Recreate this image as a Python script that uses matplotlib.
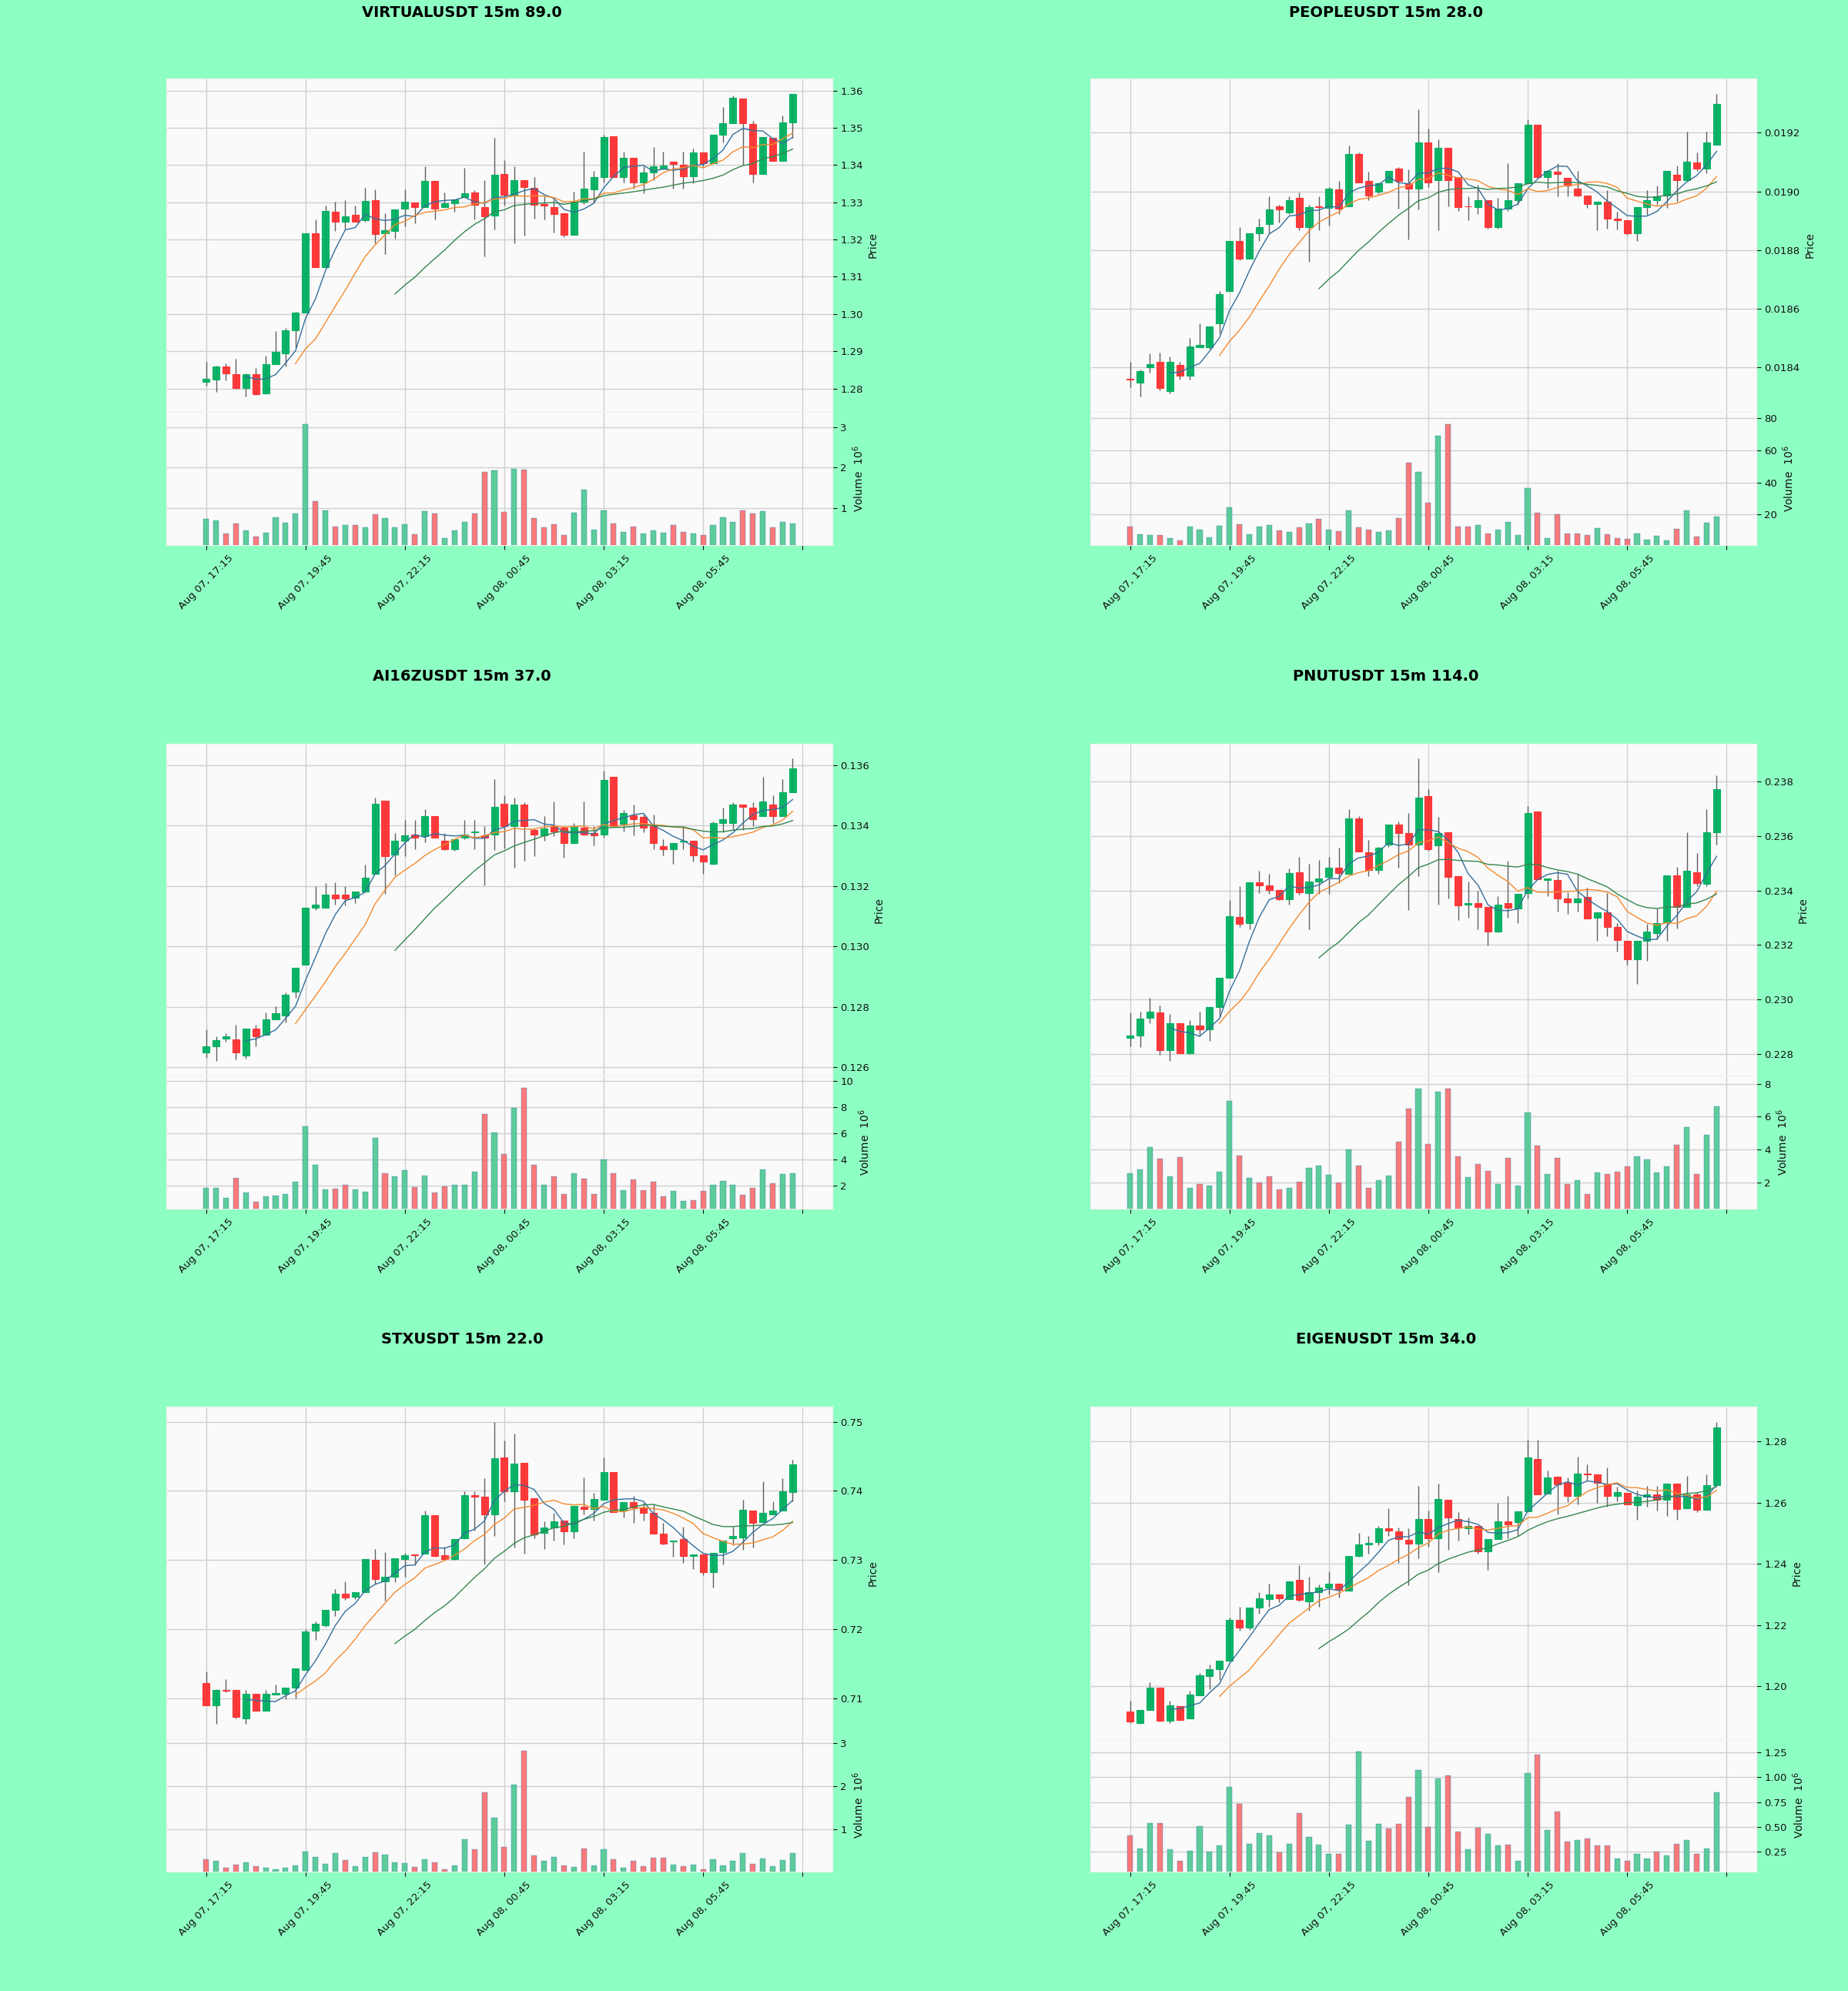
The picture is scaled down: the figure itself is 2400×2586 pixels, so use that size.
# 15m candlestick grid, six pairs, price + volume per panel

import numpy as np
import pandas as pd
import matplotlib
matplotlib.use("Agg")
from matplotlib import pyplot as plt
from matplotlib.ticker import FixedLocator, FormatStrFormatter

# ---- data ----
TITLES = ["VIRTUALUSDT 15m 89.0", "PEOPLEUSDT 15m 28.0", "AI16ZUSDT 15m 37.0",
          "PNUTUSDT 15m 114.0", "STXUSDT 15m 22.0", "EIGENUSDT 15m 34.0"]

TICK_LABELS = ["Aug 07, 17:15", "Aug 07, 19:45", "Aug 07, 22:15",
               "Aug 08, 00:45", "Aug 08, 03:15", "Aug 08, 05:45", ""]

MAV = [5, 10, 20]

# VIRTUALUSDT
VIRTUAL_OPEN = [1.2818, 1.2823, 1.2859, 1.2838, 1.2801, 1.2838, 1.2787, 1.2865, 1.2895, 1.2956,
                1.3003, 1.3217, 1.3126, 1.3274, 1.3248, 1.3267, 1.3251, 1.3306, 1.3216, 1.3223,
                1.3282, 1.3299, 1.3287, 1.3357, 1.3287, 1.3298, 1.3315, 1.3326, 1.3288, 1.3265,
                1.3376, 1.3318, 1.3360, 1.3339, 1.3295, 1.3288, 1.3270, 1.3213, 1.3301, 1.3335,
                1.3367, 1.3477, 1.3367, 1.3420, 1.3354, 1.3380, 1.3390, 1.3409, 1.3401, 1.3369,
                1.3433, 1.3405, 1.3481, 1.3513, 1.3579, 1.3511, 1.3376, 1.3473, 1.3411, 1.3515]
VIRTUAL_HIGH = [1.2871, 1.2862, 1.2867, 1.2880, 1.2840, 1.2855, 1.2889, 1.2954, 1.2962, 1.3005,
                1.3217, 1.3253, 1.3291, 1.3301, 1.3306, 1.3291, 1.3339, 1.3335, 1.3270, 1.3281,
                1.3335, 1.3299, 1.3397, 1.3357, 1.3326, 1.3308, 1.3392, 1.3333, 1.3359, 1.3473,
                1.3414, 1.3397, 1.3360, 1.3367, 1.3316, 1.3308, 1.3270, 1.3329, 1.3435, 1.3384,
                1.3481, 1.3477, 1.3435, 1.3420, 1.3397, 1.3448, 1.3435, 1.3409, 1.3437, 1.3445,
                1.3433, 1.3481, 1.3555, 1.3587, 1.3579, 1.3518, 1.3476, 1.3473, 1.3534, 1.3592]
VIRTUAL_LOW = [1.2808, 1.2791, 1.2821, 1.2800, 1.2778, 1.2783, 1.2786, 1.2865, 1.2859, 1.2910,
               1.3003, 1.3126, 1.3126, 1.3223, 1.3227, 1.3248, 1.3248, 1.3189, 1.3160, 1.3202,
               1.3236, 1.3244, 1.3287, 1.3253, 1.3287, 1.3274, 1.3315, 1.3253, 1.3155, 1.3227,
               1.3291, 1.3189, 1.3210, 1.3257, 1.3254, 1.3219, 1.3206, 1.3213, 1.3295, 1.3299,
               1.3354, 1.3367, 1.3353, 1.3337, 1.3325, 1.3359, 1.3388, 1.3337, 1.3337, 1.3352,
               1.3394, 1.3405, 1.3460, 1.3513, 1.3401, 1.3354, 1.3376, 1.3411, 1.3411, 1.3473]
VIRTUAL_CLOSE = [1.2826, 1.2860, 1.2840, 1.2801, 1.2838, 1.2784, 1.2865, 1.2899, 1.2956, 1.3003,
                 1.3217, 1.3126, 1.3276, 1.3248, 1.3263, 1.3248, 1.3304, 1.3215, 1.3225, 1.3281,
                 1.3301, 1.3287, 1.3357, 1.3282, 1.3298, 1.3308, 1.3325, 1.3293, 1.3263, 1.3374,
                 1.3320, 1.3360, 1.3340, 1.3293, 1.3291, 1.3268, 1.3213, 1.3301, 1.3337, 1.3367,
                 1.3476, 1.3367, 1.3420, 1.3354, 1.3380, 1.3397, 1.3398, 1.3402, 1.3369, 1.3433,
                 1.3405, 1.3481, 1.3513, 1.3580, 1.3513, 1.3376, 1.3476, 1.3411, 1.3515, 1.3592]
VIRTUAL_VOL = [0.73, 0.69, 0.36, 0.62, 0.45, 0.28, 0.39, 0.76, 0.63, 0.86,
               3.08, 1.16, 0.93, 0.53, 0.57, 0.57, 0.51, 0.84, 0.75, 0.51,
               0.59, 0.34, 0.92, 0.87, 0.26, 0.45, 0.65, 0.87, 1.89, 1.93,
               0.91, 1.98, 1.95, 0.75, 0.51, 0.59, 0.33, 0.88, 1.45, 0.47,
               0.93, 0.61, 0.40, 0.54, 0.37, 0.44, 0.38, 0.57, 0.41, 0.36,
               0.33, 0.58, 0.76, 0.65, 0.93, 0.87, 0.92, 0.51, 0.65, 0.61]

# PEOPLEUSDT
PEOPLE_OPEN = [0.018362, 0.018349, 0.018400, 0.018419, 0.018320, 0.018409, 0.018371, 0.018469, 0.018468, 0.018551,
               0.018660, 0.018830, 0.018771, 0.018858, 0.018890, 0.018949, 0.018928, 0.018979, 0.018879, 0.018949,
               0.018944, 0.019006, 0.018949, 0.019128, 0.019036, 0.019000, 0.019030, 0.019077, 0.019027, 0.019009,
               0.019168, 0.019038, 0.019149, 0.019049, 0.018950, 0.018947, 0.018969, 0.018879, 0.018941, 0.018969,
               0.019027, 0.019227, 0.019049, 0.019068, 0.019047, 0.019009, 0.018987, 0.018958, 0.018965, 0.018908,
               0.018901, 0.018857, 0.018947, 0.018971, 0.018987, 0.019057, 0.019038, 0.019098, 0.019077, 0.019160]
PEOPLE_HIGH = [0.018419, 0.018392, 0.018447, 0.018452, 0.018439, 0.018419, 0.018501, 0.018551, 0.018541, 0.018660,
               0.018830, 0.018879, 0.018858, 0.018906, 0.018982, 0.018955, 0.018984, 0.018995, 0.018955, 0.018984,
               0.019014, 0.019036, 0.019157, 0.019133, 0.019068, 0.019030, 0.019070, 0.019084, 0.019074, 0.019279,
               0.019214, 0.019176, 0.019149, 0.019049, 0.018984, 0.019023, 0.018969, 0.018979, 0.019097, 0.019027,
               0.019246, 0.019227, 0.019070, 0.019095, 0.019047, 0.019070, 0.018987, 0.018965, 0.019005, 0.018930,
               0.018901, 0.018947, 0.019005, 0.019019, 0.019070, 0.019088, 0.019203, 0.019133, 0.019203, 0.019333]
PEOPLE_LOW = [0.018333, 0.018301, 0.018382, 0.018322, 0.018311, 0.018360, 0.018360, 0.018469, 0.018463, 0.018517,
              0.018660, 0.018766, 0.018771, 0.018832, 0.018857, 0.018895, 0.018922, 0.018868, 0.018760, 0.018868,
              0.018884, 0.018922, 0.018949, 0.019030, 0.018971, 0.018990, 0.019030, 0.018941, 0.018836, 0.018938,
              0.019014, 0.018868, 0.018949, 0.018933, 0.018901, 0.018922, 0.018874, 0.018874, 0.018933, 0.018955,
              0.019027, 0.019049, 0.019009, 0.018982, 0.018982, 0.018982, 0.018944, 0.018868, 0.018874, 0.018871,
              0.018852, 0.018832, 0.018919, 0.018955, 0.018944, 0.018965, 0.019038, 0.019070, 0.019063, 0.019160]
PEOPLE_CLOSE = [0.018360, 0.018389, 0.018411, 0.018331, 0.018419, 0.018371, 0.018471, 0.018478, 0.018541, 0.018649,
                0.018830, 0.018771, 0.018858, 0.018878, 0.018938, 0.018938, 0.018969, 0.018879, 0.018947, 0.018947,
                0.019009, 0.018942, 0.019128, 0.019030, 0.018987, 0.019027, 0.019070, 0.019036, 0.019009, 0.019168,
                0.019030, 0.019149, 0.019038, 0.018947, 0.018948, 0.018969, 0.018879, 0.018941, 0.018969, 0.019027,
                0.019227, 0.019049, 0.019070, 0.019059, 0.019019, 0.018987, 0.018958, 0.018965, 0.018906, 0.018901,
                0.018857, 0.018947, 0.018969, 0.018984, 0.019070, 0.019038, 0.019101, 0.019077, 0.019168, 0.019297]
PEOPLE_VOL = [12.8, 7.7, 7.3, 7.3, 5.3, 3.8, 12.8, 10.8, 5.7, 13.2,
              24.5, 14.1, 7.7, 12.6, 13.5, 10.2, 9.2, 12.2, 14.5, 17.5,
              10.6, 9.6, 22.5, 12.2, 10.8, 9.2, 10.2, 18.0, 52.3, 46.4,
              27.2, 68.9, 76.1, 12.8, 12.8, 13.5, 8.3, 10.6, 15.5, 7.3,
              36.6, 21.0, 5.3, 20.0, 8.3, 8.3, 7.3, 11.6, 7.7, 5.3,
              4.9, 8.3, 4.4, 6.9, 4.0, 11.2, 22.5, 6.3, 15.1, 19.0]

# AI16ZUSDT
AI16Z_OPEN = [0.12649, 0.12670, 0.12694, 0.12691, 0.12639, 0.12728, 0.12707, 0.12759, 0.12770, 0.12850,
              0.12939, 0.13128, 0.13128, 0.13170, 0.13170, 0.13162, 0.13180, 0.13239, 0.13482, 0.13303,
              0.13350, 0.13371, 0.13364, 0.13430, 0.13350, 0.13322, 0.13360, 0.13378, 0.13368, 0.13371,
              0.13472, 0.13397, 0.13470, 0.13386, 0.13368, 0.13397, 0.13392, 0.13343, 0.13392, 0.13376,
              0.13371, 0.13561, 0.13405, 0.13433, 0.13428, 0.13399, 0.13332, 0.13322, 0.13348, 0.13350,
              0.13301, 0.13272, 0.13409, 0.13409, 0.13470, 0.13459, 0.13430, 0.13470, 0.13430, 0.13509]
AI16Z_HIGH = [0.12725, 0.12701, 0.12711, 0.12741, 0.12728, 0.12739, 0.12782, 0.12801, 0.12847, 0.12930,
              0.13128, 0.13199, 0.13209, 0.13211, 0.13199, 0.13180, 0.13270, 0.13491, 0.13482, 0.13374,
              0.13418, 0.13418, 0.13454, 0.13430, 0.13374, 0.13355, 0.13418, 0.13418, 0.13399, 0.13553,
              0.13501, 0.13491, 0.13478, 0.13390, 0.13430, 0.13480, 0.13397, 0.13409, 0.13480, 0.13397,
              0.13582, 0.13561, 0.13451, 0.13470, 0.13436, 0.13436, 0.13355, 0.13343, 0.13399, 0.13350,
              0.13301, 0.13412, 0.13459, 0.13478, 0.13470, 0.13478, 0.13561, 0.13501, 0.13553, 0.13621]
AI16Z_LOW = [0.12631, 0.12621, 0.12683, 0.12626, 0.12628, 0.12670, 0.12704, 0.12759, 0.12749, 0.12829,
             0.12939, 0.13121, 0.13128, 0.13139, 0.13136, 0.13142, 0.13180, 0.13239, 0.13173, 0.13235,
             0.13298, 0.13322, 0.13345, 0.13360, 0.13319, 0.13316, 0.13355, 0.13322, 0.13201, 0.13319,
             0.13324, 0.13261, 0.13282, 0.13298, 0.13350, 0.13366, 0.13293, 0.13340, 0.13368, 0.13334,
             0.13360, 0.13397, 0.13381, 0.13368, 0.13378, 0.13322, 0.13301, 0.13272, 0.13322, 0.13280,
             0.13239, 0.13270, 0.13378, 0.13384, 0.13384, 0.13399, 0.13430, 0.13407, 0.13430, 0.13509]
AI16Z_CLOSE = [0.12670, 0.12689, 0.12701, 0.12649, 0.12728, 0.12701, 0.12759, 0.12779, 0.12840, 0.12930,
               0.13128, 0.13139, 0.13170, 0.13159, 0.13159, 0.13180, 0.13228, 0.13472, 0.13298, 0.13350,
               0.13368, 0.13360, 0.13430, 0.13360, 0.13322, 0.13355, 0.13371, 0.13380, 0.13360, 0.13461,
               0.13397, 0.13470, 0.13397, 0.13371, 0.13389, 0.13381, 0.13343, 0.13397, 0.13371, 0.13368,
               0.13551, 0.13397, 0.13441, 0.13420, 0.13392, 0.13343, 0.13322, 0.13343, 0.13350, 0.13301,
               0.13280, 0.13409, 0.13420, 0.13470, 0.13461, 0.13420, 0.13480, 0.13430, 0.13509, 0.13590]
AI16Z_VOL = [1.79, 1.83, 1.07, 2.55, 1.45, 0.76, 1.19, 1.24, 1.36, 2.26,
             6.49, 3.55, 1.71, 1.76, 2.02, 1.71, 1.52, 5.65, 2.91, 2.67,
             3.19, 1.88, 2.74, 1.47, 1.95, 2.02, 2.02, 3.03, 7.44, 6.01,
             4.41, 7.92, 9.42, 3.55, 2.02, 2.72, 1.36, 2.95, 2.50, 1.36,
             3.98, 2.95, 1.64, 2.43, 1.64, 2.26, 1.16, 1.55, 0.83, 0.88,
             1.55, 2.07, 2.36, 2.07, 1.31, 1.79, 3.22, 2.14, 2.84, 2.91]

# PNUTUSDT
PNUT_OPEN = [0.22859, 0.22867, 0.22933, 0.22951, 0.22813, 0.22913, 0.22803, 0.22905, 0.22890, 0.22971,
             0.23081, 0.23304, 0.23280, 0.23430, 0.23418, 0.23401, 0.23368, 0.23468, 0.23391, 0.23432,
             0.23449, 0.23483, 0.23462, 0.23665, 0.23541, 0.23476, 0.23569, 0.23642, 0.23610, 0.23569,
             0.23746, 0.23566, 0.23615, 0.23453, 0.23347, 0.23353, 0.23341, 0.23249, 0.23353, 0.23335,
             0.23391, 0.23691, 0.23440, 0.23440, 0.23370, 0.23358, 0.23376, 0.23301, 0.23321, 0.23266,
             0.23214, 0.23148, 0.23214, 0.23244, 0.23283, 0.23457, 0.23341, 0.23468, 0.23425, 0.23613]
PNUT_HIGH = [0.22951, 0.22954, 0.23006, 0.22979, 0.22948, 0.22913, 0.22925, 0.22956, 0.22971, 0.23081,
             0.23364, 0.23416, 0.23430, 0.23474, 0.23460, 0.23401, 0.23480, 0.23523, 0.23499, 0.23511,
             0.23523, 0.23557, 0.23699, 0.23673, 0.23587, 0.23561, 0.23642, 0.23653, 0.23684, 0.23884,
             0.23772, 0.23671, 0.23615, 0.23453, 0.23434, 0.23399, 0.23341, 0.23379, 0.23509, 0.23387,
             0.23711, 0.23691, 0.23445, 0.23474, 0.23393, 0.23460, 0.23410, 0.23321, 0.23391, 0.23280,
             0.23214, 0.23214, 0.23277, 0.23335, 0.23457, 0.23488, 0.23615, 0.23538, 0.23699, 0.23823]
PNUT_LOW = [0.22827, 0.22824, 0.22913, 0.22798, 0.22775, 0.22803, 0.22801, 0.22867, 0.22847, 0.22936,
            0.23081, 0.23266, 0.23257, 0.23391, 0.23387, 0.23364, 0.23349, 0.23384, 0.23257, 0.23387,
            0.23387, 0.23428, 0.23462, 0.23543, 0.23453, 0.23460, 0.23561, 0.23483, 0.23329, 0.23453,
            0.23546, 0.23347, 0.23372, 0.23291, 0.23301, 0.23257, 0.23199, 0.23249, 0.23301, 0.23280,
            0.23372, 0.23442, 0.23379, 0.23324, 0.23314, 0.23324, 0.23298, 0.23214, 0.23231, 0.23176,
            0.23127, 0.23058, 0.23141, 0.23222, 0.23214, 0.23260, 0.23341, 0.23416, 0.23416, 0.23569]
PNUT_CLOSE = [0.22867, 0.22931, 0.22954, 0.22813, 0.22913, 0.22803, 0.22905, 0.22890, 0.22971, 0.23081,
              0.23306, 0.23277, 0.23430, 0.23418, 0.23401, 0.23368, 0.23465, 0.23393, 0.23432, 0.23445,
              0.23483, 0.23465, 0.23665, 0.23543, 0.23476, 0.23557, 0.23642, 0.23610, 0.23569, 0.23742,
              0.23553, 0.23610, 0.23451, 0.23345, 0.23353, 0.23341, 0.23249, 0.23349, 0.23338, 0.23387,
              0.23684, 0.23442, 0.23445, 0.23370, 0.23358, 0.23372, 0.23298, 0.23321, 0.23266, 0.23217,
              0.23148, 0.23214, 0.23249, 0.23280, 0.23457, 0.23341, 0.23474, 0.23428, 0.23615, 0.23771]
PNUT_VOL = [2.54, 2.79, 4.16, 3.44, 2.34, 3.55, 1.67, 1.87, 1.77, 2.63,
            6.94, 3.63, 2.25, 1.96, 2.34, 1.58, 1.64, 2.02, 2.86, 3.02,
            2.44, 1.96, 4.01, 3.02, 1.67, 2.10, 2.38, 4.45, 6.46, 7.71,
            4.32, 7.52, 7.71, 3.59, 2.29, 3.11, 2.67, 1.87, 3.49, 1.77,
            6.27, 4.24, 2.48, 3.48, 1.90, 2.10, 1.29, 2.59, 2.48, 2.63,
            2.96, 3.59, 3.40, 2.57, 2.98, 4.30, 5.35, 2.48, 4.89, 6.62]

# STXUSDT
STX_OPEN = [0.71228, 0.70900, 0.71127, 0.71127, 0.70717, 0.71068, 0.70827, 0.71055, 0.71068, 0.71159,
            0.71410, 0.71979, 0.72057, 0.72276, 0.72512, 0.72467, 0.72540, 0.73004, 0.72695, 0.72754,
            0.73014, 0.73087, 0.73096, 0.73651, 0.73073, 0.73014, 0.73314, 0.73938, 0.73916, 0.73665,
            0.74486, 0.73998, 0.74408, 0.73893, 0.73392, 0.73469, 0.73574, 0.73415, 0.73770, 0.73733,
            0.73870, 0.74271, 0.73711, 0.73834, 0.73756, 0.73679, 0.73378, 0.73269, 0.73301, 0.73059,
            0.73087, 0.72822, 0.73118, 0.73314, 0.73324, 0.73711, 0.73551, 0.73665, 0.73711, 0.73980]
STX_HIGH = [0.71387, 0.71137, 0.71282, 0.71127, 0.71127, 0.71068, 0.71127, 0.71205, 0.71159, 0.71433,
            0.72002, 0.72116, 0.72276, 0.72585, 0.72695, 0.72540, 0.73014, 0.73164, 0.73118, 0.73027,
            0.73105, 0.73087, 0.73711, 0.73651, 0.73196, 0.73301, 0.73998, 0.73998, 0.74189, 0.75000,
            0.74727, 0.74827, 0.74408, 0.73893, 0.73560, 0.73688, 0.73574, 0.73779, 0.74198, 0.73970,
            0.74485, 0.74271, 0.73834, 0.73925, 0.73825, 0.73815, 0.73542, 0.73287, 0.73483, 0.73077,
            0.73087, 0.73105, 0.73287, 0.73483, 0.73870, 0.73711, 0.74143, 0.73847, 0.74180, 0.74453]
STX_LOW = [0.70900, 0.70635, 0.71091, 0.70717, 0.70635, 0.70818, 0.70827, 0.71055, 0.70991, 0.71000,
           0.71410, 0.71843, 0.72039, 0.72194, 0.72421, 0.72435, 0.72540, 0.72663, 0.72412, 0.72686,
           0.72754, 0.72922, 0.73096, 0.73050, 0.73014, 0.73004, 0.73314, 0.73424, 0.72936, 0.73346,
           0.73847, 0.73187, 0.73096, 0.73314, 0.73164, 0.73278, 0.73223, 0.73314, 0.73665, 0.73574,
           0.73870, 0.73697, 0.73620, 0.73542, 0.73574, 0.73378, 0.73223, 0.73050, 0.72959, 0.72868,
           0.72786, 0.72604, 0.72936, 0.73210, 0.73150, 0.73187, 0.73551, 0.73665, 0.73711, 0.73847]
STX_CLOSE = [0.70900, 0.71123, 0.71109, 0.70736, 0.71068, 0.70827, 0.71068, 0.71082, 0.71159, 0.71433,
             0.71970, 0.72084, 0.72276, 0.72512, 0.72458, 0.72540, 0.73014, 0.72722, 0.72763, 0.73027,
             0.73073, 0.73073, 0.73651, 0.73059, 0.73014, 0.73301, 0.73938, 0.73916, 0.73665, 0.74472,
             0.73998, 0.74394, 0.73870, 0.73369, 0.73469, 0.73560, 0.73415, 0.73779, 0.73733, 0.73879,
             0.74271, 0.73697, 0.73834, 0.73756, 0.73688, 0.73378, 0.73241, 0.73287, 0.73059, 0.73077,
             0.72822, 0.73105, 0.73287, 0.73346, 0.73724, 0.73542, 0.73679, 0.73711, 0.73998, 0.74380]
STX_VOL = [0.32, 0.27, 0.11, 0.19, 0.25, 0.16, 0.11, 0.09, 0.12, 0.17,
           0.50, 0.37, 0.21, 0.45, 0.30, 0.16, 0.37, 0.47, 0.42, 0.24,
           0.22, 0.14, 0.32, 0.25, 0.09, 0.17, 0.77, 0.55, 1.86, 1.27,
           0.59, 2.05, 2.82, 0.40, 0.28, 0.37, 0.18, 0.14, 0.57, 0.18,
           0.54, 0.32, 0.12, 0.28, 0.16, 0.35, 0.35, 0.19, 0.16, 0.19,
           0.09, 0.32, 0.18, 0.28, 0.45, 0.21, 0.34, 0.16, 0.30, 0.45]

# EIGENUSDT
EIGEN_OPEN = [1.19174, 1.18812, 1.19226, 1.19950, 1.18884, 1.19350, 1.18946, 1.19712, 1.20333, 1.20571,
              1.20830, 1.22175, 1.21916, 1.22568, 1.22847, 1.23002, 1.22847, 1.23468, 1.22775, 1.23085,
              1.23230, 1.23364, 1.23126, 1.24265, 1.24637, 1.24710, 1.25175, 1.25072, 1.24782, 1.24658,
              1.25465, 1.24844, 1.26086, 1.25465, 1.25175, 1.25227, 1.24399, 1.24813, 1.25382, 1.25362,
              1.25713, 1.27431, 1.26293, 1.26852, 1.26645, 1.26231, 1.26955, 1.26914, 1.26624, 1.26210,
              1.26313, 1.25920, 1.26189, 1.26262, 1.26106, 1.26624, 1.25817, 1.26262, 1.25775, 1.26572]
EIGEN_HIGH = [1.19536, 1.19226, 1.20126, 1.19950, 1.19536, 1.19350, 1.19847, 1.20436, 1.20705, 1.20850,
              1.22258, 1.22609, 1.22568, 1.23085, 1.23364, 1.23002, 1.23437, 1.23954, 1.23571, 1.23333,
              1.23747, 1.23364, 1.24265, 1.25020, 1.24917, 1.25227, 1.25817, 1.25196, 1.25175, 1.26541,
              1.25744, 1.26624, 1.26086, 1.25693, 1.25506, 1.25227, 1.24813, 1.26003, 1.26210, 1.25713,
              1.28052, 1.28052, 1.27038, 1.26852, 1.26831, 1.27503, 1.27245, 1.26914, 1.27141, 1.26520,
              1.26313, 1.26396, 1.26541, 1.26541, 1.26624, 1.26624, 1.26883, 1.26334, 1.26914, 1.28642]
EIGEN_LOW = [1.18812, 1.18781, 1.19226, 1.18843, 1.18812, 1.18915, 1.18946, 1.19712, 1.19898, 1.20209,
             1.20830, 1.21812, 1.21843, 1.22381, 1.22589, 1.22744, 1.22847, 1.22775, 1.22485, 1.22609,
             1.23002, 1.22899, 1.23126, 1.24223, 1.24327, 1.24606, 1.24917, 1.24037, 1.23292, 1.24192,
             1.24554, 1.23727, 1.24451, 1.24761, 1.24968, 1.24327, 1.23809, 1.24813, 1.24844, 1.24917,
             1.25713, 1.26262, 1.26293, 1.25610, 1.26024, 1.25951, 1.26727, 1.25982, 1.25879, 1.26055,
             1.25951, 1.25434, 1.25879, 1.25744, 1.25568, 1.25434, 1.25817, 1.25693, 1.25775, 1.26572]
EIGEN_CLOSE = [1.18843, 1.19226, 1.19950, 1.18884, 1.19381, 1.18915, 1.19743, 1.20364, 1.20571, 1.20850,
               1.22175, 1.21916, 1.22568, 1.22878, 1.23002, 1.22878, 1.23437, 1.22816, 1.23085, 1.23230,
               1.23364, 1.23157, 1.24265, 1.24637, 1.24689, 1.25175, 1.25093, 1.24813, 1.24658, 1.25465,
               1.24844, 1.26127, 1.25506, 1.25196, 1.25227, 1.24399, 1.24813, 1.25382, 1.25279, 1.25713,
               1.27472, 1.26262, 1.26831, 1.26603, 1.26231, 1.26955, 1.26914, 1.26645, 1.26231, 1.26334,
               1.25951, 1.26189, 1.26262, 1.26106, 1.26624, 1.25796, 1.26262, 1.25775, 1.26572, 1.28466]
EIGEN_VOL = [0.41, 0.28, 0.54, 0.54, 0.27, 0.16, 0.26, 0.51, 0.25, 0.31,
             0.90, 0.73, 0.33, 0.44, 0.41, 0.24, 0.33, 0.64, 0.40, 0.32,
             0.23, 0.23, 0.52, 1.26, 0.36, 0.53, 0.48, 0.53, 0.80, 1.07,
             0.50, 0.99, 1.02, 0.45, 0.27, 0.49, 0.43, 0.31, 0.32, 0.16,
             1.04, 1.23, 0.47, 0.65, 0.35, 0.37, 0.38, 0.31, 0.31, 0.18,
             0.16, 0.23, 0.18, 0.25, 0.21, 0.33, 0.37, 0.23, 0.28, 0.85]

# axis ticks as printed in the reference
PRICE_TICKS = [[1.28, 1.29, 1.30, 1.31, 1.32, 1.33, 1.34, 1.35, 1.36],
               [0.0184, 0.0186, 0.0188, 0.0190, 0.0192],
               [0.126, 0.128, 0.130, 0.132, 0.134, 0.136],
               [0.228, 0.230, 0.232, 0.234, 0.236, 0.238],
               [0.71, 0.72, 0.73, 0.74, 0.75],
               [1.20, 1.22, 1.24, 1.26, 1.28]]
PRICE_FMT = ["%.2f", "%.4f", "%.3f", "%.3f", "%.2f", "%.2f"]
VOL_TICKS = [[1, 2, 3], [20, 40, 60, 80], [2, 4, 6, 8, 10], [2, 4, 6, 8],
             [1, 2, 3], [0.25, 0.50, 0.75, 1.00, 1.25]]
VOL_FMT = ["%d", "%d", "%d", "%d", "%d", "%.2f"]

PANELS = [
    (VIRTUAL_OPEN, VIRTUAL_HIGH, VIRTUAL_LOW, VIRTUAL_CLOSE, VIRTUAL_VOL),
    (PEOPLE_OPEN, PEOPLE_HIGH, PEOPLE_LOW, PEOPLE_CLOSE, PEOPLE_VOL),
    (AI16Z_OPEN, AI16Z_HIGH, AI16Z_LOW, AI16Z_CLOSE, AI16Z_VOL),
    (PNUT_OPEN, PNUT_HIGH, PNUT_LOW, PNUT_CLOSE, PNUT_VOL),
    (STX_OPEN, STX_HIGH, STX_LOW, STX_CLOSE, STX_VOL),
    (EIGEN_OPEN, EIGEN_HIGH, EIGEN_LOW, EIGEN_CLOSE, EIGEN_VOL),
]

# ---- style (yahoo-like) ----
BG = "#8EFFC3"
FACE = "#fafafa"
GRID = "#d0d0d0"
UP, DOWN = "#00b060", "#fe3032"
WICK = "#606060"
VUP, VDOWN = "#4dc790", "#fd6b6c"
MA_COLORS = ["#336e9c", "#f48a2e", "#33874f"]
TXT = "#101010"

fig = plt.figure(figsize=(24, 25.86), dpi=100, facecolor=BG)

col_x = [(0.090, 0.4504), (0.590, 0.9504)]
row_y = [(0.9606, 0.7262), (0.6265, 0.3929), (0.2935, 0.0599)]
title_y = [0.9938, 0.6601, 0.3275]


def style_axis(ax):
    ax.set_facecolor(FACE)
    for s in ax.spines.values():
        s.set_color("#f0f0f0")
    ax.grid(True, color=GRID, linewidth=1.0, linestyle="-")
    ax.set_axisbelow(True)
    ax.yaxis.tick_right()
    ax.yaxis.set_label_position("right")
    ax.tick_params(axis="y", which="both", left=False, right=True,
                   labelsize=9.5, colors=TXT, length=4)


for k, (o, h, l, c, v) in enumerate(PANELS):
    o = np.array(o); h = np.array(h); l = np.array(l); c = np.array(c); v = np.array(v)
    x = np.arange(len(o))
    r, cc = divmod(k, 2)
    left, right = col_x[cc]
    top, bottom = row_y[r]
    total = top - bottom
    vol_h = total * 2 / 7
    price_h = total - vol_h

    ax_p = fig.add_axes([left, bottom + vol_h, right - left, price_h])
    ax_v = fig.add_axes([left, bottom, right - left, vol_h], sharex=ax_p)
    style_axis(ax_p)
    style_axis(ax_v)

    up = c >= o
    body_col = np.where(up, UP, DOWN)

    # candles
    ax_p.vlines(x, l, h, color=WICK, linewidth=1.0, zorder=2)
    ax_p.bar(x, np.abs(c - o), bottom=np.minimum(o, c), width=0.7,
             color=body_col, edgecolor=body_col, linewidth=0.8, alpha=0.95, zorder=3)

    # moving averages
    for n, mc in zip(MAV, MA_COLORS):
        ma = pd.Series(c).rolling(n).mean()
        ax_p.plot(x, ma, color=mc, linewidth=1.0, zorder=4)

    rng = h.max() - l.min()
    ax_p.set_ylim(l.min() - 0.05 * rng, h.max() + 0.05 * rng)
    ax_p.yaxis.set_major_locator(FixedLocator(PRICE_TICKS[k]))
    ax_p.yaxis.set_major_formatter(FormatStrFormatter(PRICE_FMT[k]))
    ax_p.set_ylabel("Price", fontsize=10, color=TXT)
    ax_p.tick_params(axis="x", which="both", bottom=False, labelbottom=False)

    # volume
    vol_col = np.where(up, VUP, VDOWN)
    ax_v.bar(x, v, width=0.55, color=vol_col, edgecolor="#1f77b4",
             linewidth=0.3, alpha=0.9, zorder=3)
    ax_v.set_ylim(0.3 * v.min(), 1.1 * v.max())
    ax_v.yaxis.set_major_locator(FixedLocator(VOL_TICKS[k]))
    ax_v.yaxis.set_major_formatter(FormatStrFormatter(VOL_FMT[k]))
    ax_v.set_ylabel("Volume  $10^{6}$", fontsize=10, color=TXT)

    ax_v.set_xlim(-4.0, 63.0)
    ax_v.set_xticks(range(0, 61, 10))
    ax_v.set_xticklabels(TICK_LABELS, rotation=45, ha="center",
                         fontsize=9.5, color=TXT)
    ax_v.tick_params(axis="x", which="both", bottom=True, length=4, colors=TXT)

    fig.text(0.25 + 0.5 * cc, title_y[r], TITLES[k], ha="center", va="center",
             fontsize=14, fontweight="bold", color="black")

fig.savefig("out.png", dpi=100, facecolor=BG)
